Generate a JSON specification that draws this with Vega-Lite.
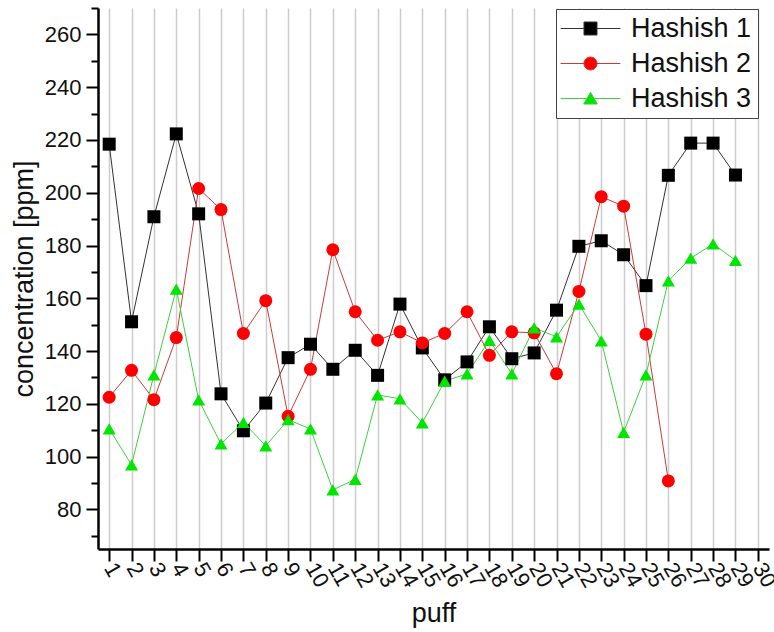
{
  "$schema": "https://vega.github.io/schema/vega-lite/v6.json",
  "autosize": "none",
  "width": 671,
  "height": 541,
  "padding": {"left": 98, "top": 8, "right": 5, "bottom": 83},
  "background": "white",
  "config": {
    "view": {"stroke": null},
    "font": "Liberation Sans"
  },
  "data": {
    "values": [
      {"puff": 1, "series": "Hashish 1", "c": 218.4},
      {"puff": 2, "series": "Hashish 1", "c": 151.1},
      {"puff": 3, "series": "Hashish 1", "c": 190.9},
      {"puff": 4, "series": "Hashish 1", "c": 222.3},
      {"puff": 5, "series": "Hashish 1", "c": 192.0},
      {"puff": 6, "series": "Hashish 1", "c": 123.8},
      {"puff": 7, "series": "Hashish 1", "c": 109.8},
      {"puff": 8, "series": "Hashish 1", "c": 120.3},
      {"puff": 9, "series": "Hashish 1", "c": 137.5},
      {"puff": 10, "series": "Hashish 1", "c": 142.6},
      {"puff": 11, "series": "Hashish 1", "c": 133.1},
      {"puff": 12, "series": "Hashish 1", "c": 140.3},
      {"puff": 13, "series": "Hashish 1", "c": 130.8},
      {"puff": 14, "series": "Hashish 1", "c": 157.8},
      {"puff": 15, "series": "Hashish 1", "c": 141.2},
      {"puff": 16, "series": "Hashish 1", "c": 129.1},
      {"puff": 17, "series": "Hashish 1", "c": 135.9},
      {"puff": 18, "series": "Hashish 1", "c": 149.2},
      {"puff": 19, "series": "Hashish 1", "c": 137.1},
      {"puff": 20, "series": "Hashish 1", "c": 139.3},
      {"puff": 21, "series": "Hashish 1", "c": 155.5},
      {"puff": 22, "series": "Hashish 1", "c": 179.7},
      {"puff": 23, "series": "Hashish 1", "c": 181.8},
      {"puff": 24, "series": "Hashish 1", "c": 176.5},
      {"puff": 25, "series": "Hashish 1", "c": 164.8},
      {"puff": 26, "series": "Hashish 1", "c": 206.6},
      {"puff": 27, "series": "Hashish 1", "c": 218.8},
      {"puff": 28, "series": "Hashish 1", "c": 218.8},
      {"puff": 29, "series": "Hashish 1", "c": 206.7},
      {"puff": 1, "series": "Hashish 2", "c": 122.5},
      {"puff": 2, "series": "Hashish 2", "c": 132.7},
      {"puff": 3, "series": "Hashish 2", "c": 121.6},
      {"puff": 4, "series": "Hashish 2", "c": 145.1},
      {"puff": 5, "series": "Hashish 2", "c": 201.6},
      {"puff": 6, "series": "Hashish 2", "c": 193.6},
      {"puff": 7, "series": "Hashish 2", "c": 146.7},
      {"puff": 8, "series": "Hashish 2", "c": 159.1},
      {"puff": 9, "series": "Hashish 2", "c": 115.3},
      {"puff": 10, "series": "Hashish 2", "c": 133.1},
      {"puff": 11, "series": "Hashish 2", "c": 178.4},
      {"puff": 12, "series": "Hashish 2", "c": 154.9},
      {"puff": 13, "series": "Hashish 2", "c": 144.1},
      {"puff": 14, "series": "Hashish 2", "c": 147.3},
      {"puff": 15, "series": "Hashish 2", "c": 143.1},
      {"puff": 16, "series": "Hashish 2", "c": 146.7},
      {"puff": 17, "series": "Hashish 2", "c": 154.9},
      {"puff": 18, "series": "Hashish 2", "c": 138.4},
      {"puff": 19, "series": "Hashish 2", "c": 147.3},
      {"puff": 20, "series": "Hashish 2", "c": 146.9},
      {"puff": 21, "series": "Hashish 2", "c": 131.4},
      {"puff": 22, "series": "Hashish 2", "c": 162.6},
      {"puff": 23, "series": "Hashish 2", "c": 198.5},
      {"puff": 24, "series": "Hashish 2", "c": 194.9},
      {"puff": 25, "series": "Hashish 2", "c": 146.4},
      {"puff": 26, "series": "Hashish 2", "c": 90.8},
      {"puff": 1, "series": "Hashish 3", "c": 110.5},
      {"puff": 2, "series": "Hashish 3", "c": 96.9},
      {"puff": 3, "series": "Hashish 3", "c": 131.0},
      {"puff": 4, "series": "Hashish 3", "c": 163.5},
      {"puff": 5, "series": "Hashish 3", "c": 121.5},
      {"puff": 6, "series": "Hashish 3", "c": 104.8},
      {"puff": 7, "series": "Hashish 3", "c": 113.0},
      {"puff": 8, "series": "Hashish 3", "c": 104.1},
      {"puff": 9, "series": "Hashish 3", "c": 114.0},
      {"puff": 10, "series": "Hashish 3", "c": 110.5},
      {"puff": 11, "series": "Hashish 3", "c": 87.4},
      {"puff": 12, "series": "Hashish 3", "c": 91.4},
      {"puff": 13, "series": "Hashish 3", "c": 123.4},
      {"puff": 14, "series": "Hashish 3", "c": 121.9},
      {"puff": 15, "series": "Hashish 3", "c": 112.8},
      {"puff": 16, "series": "Hashish 3", "c": 128.6},
      {"puff": 17, "series": "Hashish 3", "c": 131.4},
      {"puff": 18, "series": "Hashish 3", "c": 144.1},
      {"puff": 19, "series": "Hashish 3", "c": 131.4},
      {"puff": 20, "series": "Hashish 3", "c": 148.8},
      {"puff": 21, "series": "Hashish 3", "c": 145.4},
      {"puff": 22, "series": "Hashish 3", "c": 157.8},
      {"puff": 23, "series": "Hashish 3", "c": 143.9},
      {"puff": 24, "series": "Hashish 3", "c": 109.2},
      {"puff": 25, "series": "Hashish 3", "c": 131.0},
      {"puff": 26, "series": "Hashish 3", "c": 166.6},
      {"puff": 27, "series": "Hashish 3", "c": 175.2},
      {"puff": 28, "series": "Hashish 3", "c": 180.6},
      {"puff": 29, "series": "Hashish 3", "c": 174.4}
    ]
  },
  "encoding": {
    "x": {
      "field": "puff", "type": "quantitative",
      "scale": {"domain": [0.5, 30.5], "nice": false, "zero": false},
      "axis": {
        "title": "puff",
        "values": [1,2,3,4,5,6,7,8,9,10,11,12,13,14,15,16,17,18,19,20,21,22,23,24,25,26,27,28,29,30],
        "grid": true, "gridColor": "#cccccc", "gridWidth": 1.5,
        "domainColor": "#000000", "domainWidth": 2.5,
        "tickColor": "#000000", "tickWidth": 2, "tickSize": 12,
        "labelAngle": 60, "labelAlign": "left", "labelBaseline": "middle",
        "labelFontSize": 22, "labelColor": "#111111", "labelPadding": 3,
        "labelFont": "Liberation Sans", "labelOverlap": false, "labelFlush": false,
        "titleFont": "Liberation Sans", "titleFontSize": 27, "titleFontWeight": "normal",
        "titleColor": "#111111", "titlePadding": 10
      }
    },
    "y": {
      "field": "c", "type": "quantitative",
      "scale": {"domain": [65, 270], "nice": false, "zero": false},
      "axis": {
        "orient": "left",
        "title": "concentration [ppm]",
        "values": [80,100,120,140,160,180,200,220,240,260],
        "grid": false,
        "domainColor": "#000000", "domainWidth": 2.5,
        "tickColor": "#000000", "tickWidth": 2, "tickSize": 12,
        "labelFontSize": 22, "labelColor": "#111111", "labelPadding": 5,
        "labelFont": "Liberation Sans",
        "titleFont": "Liberation Sans", "titleFontSize": 27, "titleFontWeight": "normal",
        "titleColor": "#111111", "titlePadding": 6
      }
    }
  },
  "layer": [
    {
      "mark": {"type": "line", "strokeWidth": 1},
      "encoding": {
        "stroke": {
          "field": "series", "type": "nominal",
          "scale": {"range": ["#333333", "#cc3b3b", "#3fd03f"]},
          "legend": null
        },
        "order": {"field": "puff"}
      }
    },
    {
      "mark": {"type": "point", "filled": true, "opacity": 1, "size": 169},
      "encoding": {
        "y": {
          "field": "c", "type": "quantitative",
          "scale": {"domain": [65, 270], "nice": false, "zero": false},
          "axis": {
            "orient": "left", "title": null, "labels": false, "domain": false, "grid": false,
            "values": [70,90,110,130,150,170,190,210,230,250,270],
            "tickColor": "#000000", "tickWidth": 2, "tickSize": 7
          }
        },
        "color": {
          "field": "series", "type": "nominal",
          "scale": {"domain": ["Hashish 1", "Hashish 2", "Hashish 3"], "range": ["#000000", "#ff0000", "#00e600"]},
          "legend": {
            "title": null,
            "orient": "none", "legendX": 458, "legendY": 1,
            "fillColor": "white", "strokeColor": "#444444",
            "padding": 6, "rowPadding": 7,
            "labelFontSize": 27, "labelFont": "Liberation Sans", "labelColor": "#111111",
            "symbolSize": 169, "symbolOffset": 15, "labelOffset": 27,
            "encoding": {
              "symbols": {
                "shape": {"value": {"expr": "datum.value === 'Hashish 1' ? 'M-4.6,0H-1M1,0H4.6M-1,-1H1V1H-1Z' : datum.value === 'Hashish 2' ? 'M-4.6,0H-1M1,0H4.6M1,0A1,1,0,1,1,-1,0A1,1,0,1,1,1,0Z' : 'M-4.6,0H-0.55M0.55,0H4.6M0,-0.95L1.05,0.85L-1.05,0.85Z'"}},
                "stroke": {"value": {"expr": "datum.value === 'Hashish 1' ? '#333333' : datum.value === 'Hashish 2' ? '#cc3b3b' : '#3fd03f'"}},
                "strokeWidth": {"value": 1}
              }
            }
          }
        },
        "shape": {
          "field": "series", "type": "nominal",
          "scale": {"range": ["square", "circle", "triangle-up"]},
          "legend": null
        }
      }
    }
  ],
  "resolve": {"axis": {"y": "independent"}}
}
